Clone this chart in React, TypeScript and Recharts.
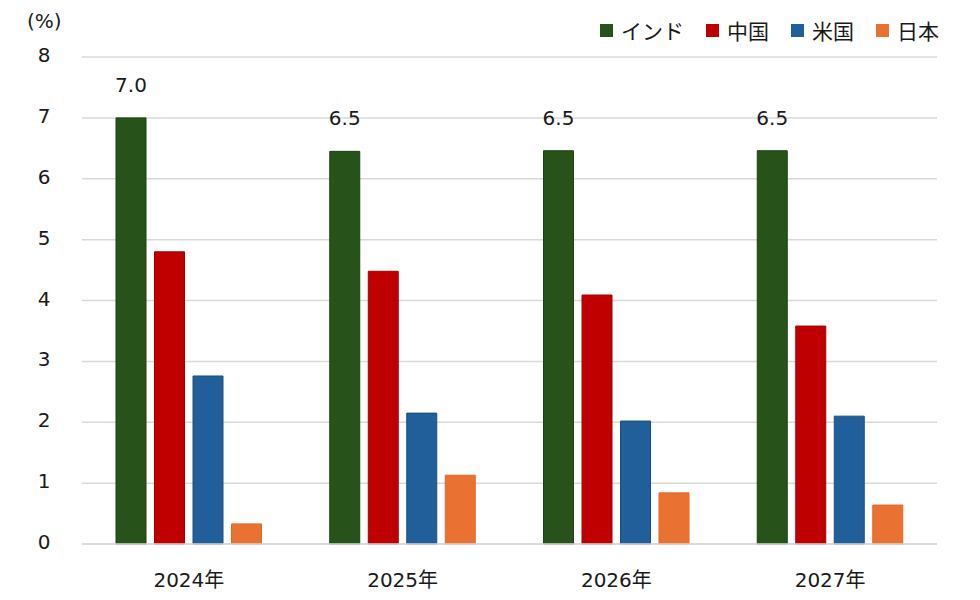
import React from 'react';
import { BarChart, Bar, XAxis, YAxis, CartesianGrid, LabelList } from 'recharts';

const categories = ['2024年', '2025年', '2026年', '2027年'];
const india = [7.0, 6.45, 6.46, 6.46];
const china = [4.8, 4.48, 4.09, 3.58];
const usa = [2.76, 2.15, 2.02, 2.1];
const japan = [0.33, 1.13, 0.84, 0.64];
const yTicks = [0, 1, 2, 3, 4, 5, 6, 7, 8];
const indiaLabels = ['7.0', '6.5', '6.5', '6.5'];

const series = [
  { key: 'india', name: 'インド', color: '#27521a', stroke: '#1e4213', values: india },
  { key: 'china', name: '中国', color: '#c00000', stroke: '#a80000', values: china },
  { key: 'usa', name: '米国', color: '#215f9a', stroke: '#1a4f82', values: usa },
  { key: 'japan', name: '日本', color: '#e97132', stroke: '#e06a2a', values: japan },
];

const data = categories.map((c, i) => {
  const row: any = { cat: c, label: indiaLabels[i] };
  series.forEach((s) => (row[s.key] = s.values[i]));
  return row;
});

const FONT = '"DejaVu Sans", "Noto Sans CJK JP", sans-serif';

const YTick = (props: any) => {
  const { y, payload } = props;
  return (
    <text x={44} y={y} dy={5} textAnchor="middle" fontSize={20} fill="#1a1a1a" fontFamily={FONT}>
      {payload.value}
    </text>
  );
};

const XTick = (props: any) => {
  const { x, y, payload } = props;
  return (
    <text x={x} y={y} dy={35} textAnchor="middle" fontSize={20} fill="#1a1a1a" fontFamily={FONT}>
      {payload.value}
    </text>
  );
};

export default function App() {
  return (
    <div style={{ position: 'absolute', left: 0, top: 0, width: 980, height: 600, background: '#fff' }}>
      <div style={{ position: 'absolute', left: 27, top: 9, fontFamily: FONT, fontSize: 20, color: '#1a1a1a' }}>(%)</div>
      <div
        style={{
          position: 'absolute',
          left: 600,
          top: 15,
          display: 'flex',
          alignItems: 'center',
          fontFamily: FONT,
          fontSize: 21,
          color: '#1a1a1a',
          whiteSpace: 'nowrap',
        }}
      >
        {series.map((s, i) => (
          <div key={s.key} style={{ display: 'flex', alignItems: 'center', marginLeft: i === 0 ? 0 : 22 }}>
            <div style={{ width: 13, height: 13, background: s.color, marginRight: 8 }} />
            <span>{s.name}</span>
          </div>
        ))}
      </div>
      <BarChart
        width={980}
        height={600}
        data={data}
        margin={{ top: 57, right: 43, left: 0, bottom: 0 }}
        barSize={30}
        barGap={8.5}
      >
        <CartesianGrid vertical={false} stroke="#d9d9d9" strokeWidth={1.5} />
        <XAxis
          dataKey="cat"
          axisLine={{ stroke: '#d9d9d9', strokeWidth: 1.5 }}
          tickLine={false}
          tick={<XTick />}
          height={56}
        />
        <YAxis
          width={82}
          domain={[0, 8]}
          ticks={yTicks}
          axisLine={false}
          tickLine={false}
          tick={<YTick />}
          interval={0}
        />
        {series.map((s) => (
          <Bar key={s.key} dataKey={s.key} name={s.name} fill={s.color} stroke={s.stroke} strokeWidth={1} isAnimationActive={false}>
            {s.key === 'india' && (
              <LabelList
                dataKey="label"
                position="top"
                offset={26}
                fontSize={20}
                fill="#1a1a1a"
                fontFamily={FONT}
              />
            )}
          </Bar>
        ))}
      </BarChart>
    </div>
  );
}
